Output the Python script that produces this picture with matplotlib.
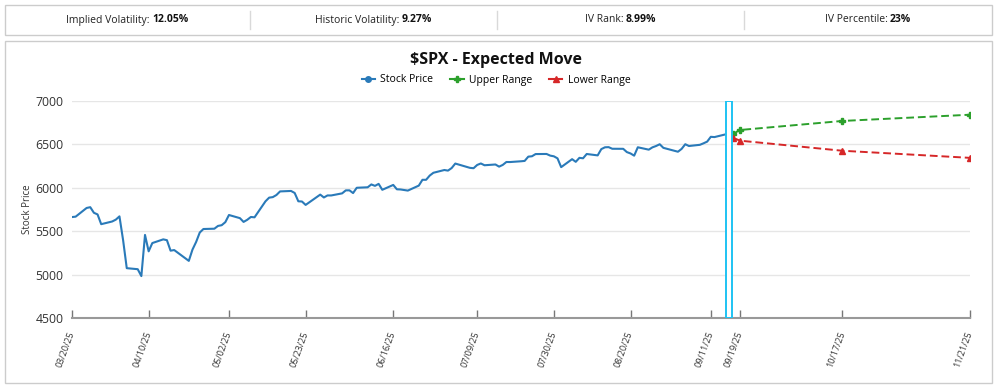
import matplotlib
matplotlib.use("Agg")
import matplotlib.pyplot as plt
from matplotlib.lines import Line2D
from matplotlib.patches import Rectangle
import pandas as pd

plt.rcParams['font.family'] = ['Open Sans', 'DejaVu Sans']

# ---------------- data ----------------
stat_labels = ["Implied Volatility:", "Historic Volatility:", "IV Rank:", "IV Percentile:"]
stat_values = ["12.05%", "9.27%", "8.99%", "23%"]

market_holidays = ["2025-04-18", "2025-05-26", "2025-06-19", "2025-07-04", "2025-09-01"]
price_dates = pd.bdate_range("2025-03-20", "2025-09-16", freq="C", holidays=market_holidays)
stock_price = [
    5662.89, 5667.56, 5767.57, 5776.65, 5712.20, 5693.31, 5580.94, 5611.85,
    5633.07, 5670.97, 5396.52, 5074.08, 5062.25, 4982.77, 5456.90, 5268.05, 5363.36, 5405.97,
    5396.63, 5275.70, 5282.70, 5158.20, 5287.76, 5375.86, 5484.77, 5525.21, 5528.75, 5560.83, 5569.06,
    5604.14, 5686.67, 5650.38, 5606.91, 5631.28, 5663.94, 5659.91, 5844.19, 5886.55, 5892.58,
    5916.93, 5958.38, 5963.60, 5940.46, 5844.61, 5842.01, 5802.82, 5921.54, 5888.55, 5912.17, 5911.69,
    5935.94, 5970.37, 5970.81, 5939.30, 6000.36, 6005.88, 6038.81, 6022.24, 6045.26, 5976.97,
    6033.11, 5982.72, 5980.87, 5967.84, 6025.17, 6092.18, 6092.16, 6141.02, 6173.07, 6204.95,
    6198.01, 6227.42, 6279.35, 6229.98, 6225.52, 6263.26, 6280.46, 6259.75, 6268.56, 6243.76, 6263.70,
    6297.36, 6296.79, 6305.60, 6309.62, 6358.91, 6363.35, 6388.64, 6389.77, 6370.86, 6362.90, 6339.39,
    6238.01, 6329.94, 6299.19, 6345.06, 6340.00, 6389.45, 6373.45, 6445.76, 6466.58, 6468.54, 6449.80,
    6449.15, 6411.37, 6395.78, 6370.17, 6466.91, 6439.32, 6465.94, 6481.40, 6501.86, 6460.26,
    6415.54, 6448.26, 6502.08, 6481.50, 6495.15, 6512.61, 6532.04, 6587.47, 6584.29, 6615.28, 6606.76,
]

range_dates = pd.to_datetime(["2025-09-17", "2025-09-19", "2025-10-17", "2025-11-21"])
upper_range = [6620, 6666, 6770, 6842]
lower_range = [6578, 6543, 6427, 6345]

marker_band = ("2025-09-15 06:00", "2025-09-16 16:00")

tick_labels = ["03/20/25", "04/10/25", "05/02/25", "05/23/25", "06/16/25", "07/09/25",
               "07/30/25", "08/20/25", "09/11/25", "09/19/25", "10/17/25", "11/21/25"]
y_ticks = [4500, 5000, 5500, 6000, 6500, 7000]

# ---------------- figure ----------------
W, H = 997, 388
fig = plt.figure(figsize=(W / 100, H / 100), dpi=100)


def fx(px):
    return px / W


def fy(py):
    return 1 - py / H


# top stats box
fig.add_artist(Rectangle((fx(5), fy(35)), fx(992) - fx(5), fy(5) - fy(35),
                         transform=fig.transFigure, fill=False, edgecolor='#cccccc', lw=1))
for xs in [250, 497, 744]:
    fig.add_artist(Line2D([fx(xs)] * 2, [fy(11), fy(29)], transform=fig.transFigure,
                          color='#d9d9d9', lw=1))

renderer = fig.canvas.get_renderer()
bounds = [5, 250, 497, 744, 992]
for i, (lab, val) in enumerate(zip(stat_labels, stat_values)):
    c = (bounds[i] + bounds[i + 1]) / 2
    t1 = fig.text(0, fy(20), lab, fontsize=7.5, va='center', color='#222222')
    t2 = fig.text(0, fy(20), val, fontsize=7.5, fontweight='bold', va='center', color='#111111')
    w1 = t1.get_window_extent(renderer).width
    w2 = t2.get_window_extent(renderer).width
    gap = 2.5
    x0 = c - (w1 + gap + w2) / 2
    t1.set_x(fx(x0))
    t2.set_x(fx(x0 + w1 + gap))

# main panel box
fig.add_artist(Rectangle((fx(5), fy(383)), fx(992) - fx(5), fy(41) - fy(383),
                         transform=fig.transFigure, fill=False, edgecolor='#cccccc', lw=1))

fig.text(fx(496), fy(60), "$SPX - Expected Move", ha='center', va='center',
         fontsize=11.5, fontweight='bold', color='#111111', parse_math=False)

# axes
ax = fig.add_axes([fx(72), fy(318), fx(970) - fx(72), fy(101) - fy(318)])
blue, green, red = '#2a7ab9', '#2ca02c', '#d62728'

ax.plot(price_dates, stock_price, color=blue, lw=1.5, zorder=3)
ax.plot(range_dates, upper_range, color=green, lw=1.4, ls=(0, (4, 2)), marker='P',
        markersize=4.5, zorder=3)
ax.plot(range_dates, lower_range, color=red, lw=1.4, ls=(0, (4, 2)), marker='^',
        markersize=4, zorder=3)

ax.axvspan(pd.Timestamp(marker_band[0]), pd.Timestamp(marker_band[1]), facecolor='white',
           edgecolor='#1ec3f3', lw=1.4, zorder=4)

ax.set_xlim(pd.Timestamp("2025-03-20"), pd.Timestamp("2025-11-21"))
ax.set_ylim(4500, 7000)
ax.set_yticks(y_ticks)
ax.set_yticklabels([str(v) for v in y_ticks])
ax.yaxis.grid(True, color='#e6e6e6', lw=1)
ax.set_axisbelow(True)

tick_dates = [pd.to_datetime(t, format="%m/%d/%y") for t in tick_labels]
ax.set_xticks(tick_dates)
ax.set_xticklabels(tick_labels, rotation=70, ha='right', va='center', rotation_mode='anchor',
                   fontsize=6.5, color='#333333')
ax.tick_params(axis='x', direction='in', length=6, width=1, color='#777777', pad=10)
ax.tick_params(axis='y', length=0, pad=6, labelsize=8.8, labelcolor='#333333')

for s in ['top', 'right', 'left']:
    ax.spines[s].set_visible(False)
ax.spines['bottom'].set_color('#999999')
ax.spines['bottom'].set_linewidth(1.5)

ax.set_ylabel("Stock Price", fontsize=7, color='#333333', labelpad=2)

handles = [
    Line2D([], [], color=blue, lw=1.5, marker='o', markersize=4),
    Line2D([], [], color=green, lw=1.5, marker='P', markersize=4),
    Line2D([], [], color=red, lw=1.5, marker='^', markersize=4),
]
fig.legend(handles, ["Stock Price", "Upper Range", "Lower Range"], loc='center',
           bbox_to_anchor=(fx(496), fy(80)), ncol=3, frameon=False, fontsize=7.5,
           handlelength=1.3, columnspacing=1.6, handletextpad=0.5)

fig.savefig("out.png", dpi=100)
